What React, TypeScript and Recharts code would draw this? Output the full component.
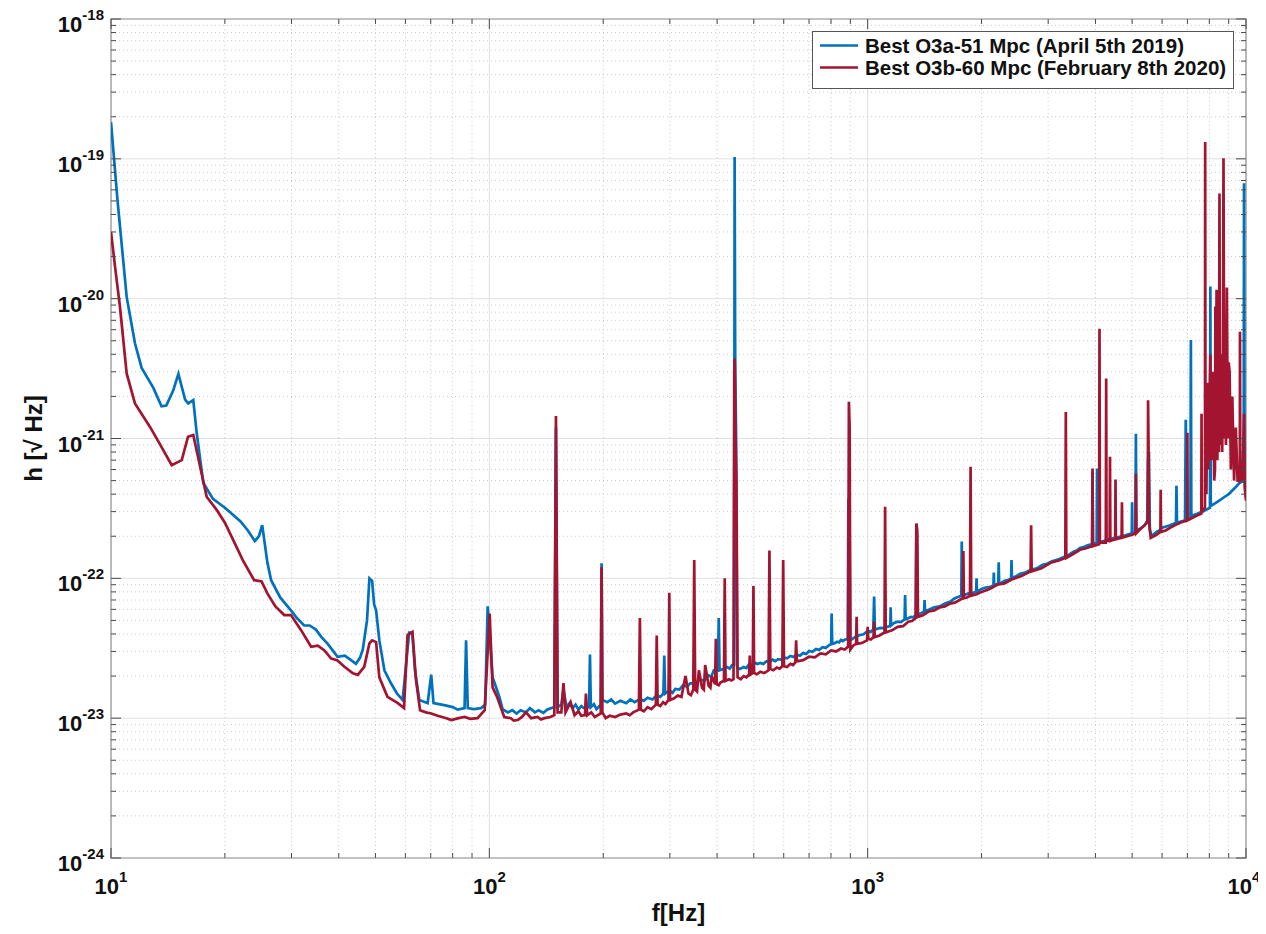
import React from 'react';
import { LineChart, Line, XAxis, YAxis, ReferenceLine, ReferenceArea } from 'recharts';

// ---------- data (frequency in Hz, strain in 1/sqrt(Hz)) ----------
const o3aPoints: [number, number][] = [
  [10, 1.83e-19], [10.4, 5.1e-20], [11.0, 1.03e-20], [11.57, 4.8e-21], [12.05, 3.2e-21],
  [12.94, 2.3e-21], [13.6, 1.7e-21], [14.0, 1.72e-21], [14.6, 2.2e-21], [15.07, 2.9e-21],
  [15.7, 1.9e-21], [16.0, 1.78e-21], [16.5, 1.88e-21], [16.85, 1.09e-21], [17.54, 4.8e-22],
  [18.6, 3.7e-22], [20, 3.2e-22], [21, 2.85e-22], [22, 2.55e-22], [23, 2.2e-22],
  [24, 1.85e-22], [24.6, 2.0e-22], [25.1, 2.4e-22], [25.9, 1.3e-22], [26.5, 9.7e-23],
  [28, 7.3e-23], [29.9, 5.9e-23], [31, 5.2e-23], [32.4, 4.6e-23], [33.5, 4.6e-23],
  [34.8, 4.3e-23], [36, 3.8e-23], [37.4, 3.4e-23], [39.7, 2.75e-23], [41.5, 2.8e-23],
  [43.1, 2.6e-23], [44.4, 2.45e-23], [45.5, 2.7e-23], [46.3, 3.1e-23], [47.5, 5e-23],
  [48.2, 1.0e-22], [49.0, 9.6e-23], [49.6, 6.5e-23], [50.2, 5.9e-23], [51.2, 3.6e-23],
  [52.8, 2.2e-23], [55.0, 1.77e-23], [57, 1.5e-23], [59.0, 1.35e-23], [61.4, 4.1e-23],
  [62.6, 4.1e-23], [63.6, 2.2e-23], [65.3, 1.35e-23], [68.7, 1.28e-23], [70.2, 2.05e-23],
  [71.2, 1.28e-23], [76, 1.24e-23], [80, 1.2e-23], [82.5, 1.15e-23], [86.0, 1.18e-23],
  [86.8, 3.6e-23], [87.7, 1.18e-23], [91, 1.16e-23], [95.1, 1.18e-23], [97.5, 1.25e-23],
  [99.0, 6.3e-23], [102, 1.96e-23], [106.3, 1.42e-23], [108.4, 1.16e-23], [112, 1.1e-23],
  [115, 1.14e-23], [118, 1.08e-23], [121, 1.14e-23], [125, 1.1e-23], [128, 1.18e-23],
  [132, 1.1e-23], [135, 1.14e-23], [139, 1.09e-23], [142, 1.15e-23], [148.5, 1.2e-23],
  [150, 1.2e-21], [151.5, 1.2e-23], [155, 1.25e-23], [157, 1.6e-23], [160, 1.2e-23],
  [163, 1.28e-23], [166, 1.18e-23], [169, 1.25e-23], [172, 1.15e-23], [175, 1.22e-23],
  [178, 1.18e-23], [183.5, 1.2e-23], [184.5, 2.85e-23], [185.5, 1.2e-23], [189, 1.26e-23],
  [192, 1.16e-23], [197, 1.25e-23], [198, 1.28e-22], [199, 1.35e-23], [205, 1.3e-23],
  [210, 1.36e-23], [215, 1.27e-23], [222, 1.33e-23], [230, 1.28e-23], [236, 1.36e-23],
  [242, 1.3e-23], [250, 1.37e-23], [256, 1.33e-23], [262, 1.4e-23], [270, 1.36e-23],
  [277, 1.46e-23], [283, 1.42e-23], [288.5, 1.5e-23], [290, 2.8e-23], [291.5, 1.5e-23],
  [299, 1.58e-23], [305, 1.52e-23], [310, 1.62e-23], [318, 1.6e-23], [325, 1.72e-23],
  [333, 1.68e-23], [340, 1.78e-23], [350, 1.76e-23], [360, 1.9e-23], [370, 1.85e-23],
  [380, 2.02e-23], [386, 1.98e-23], [392, 2.2e-23], [402, 2.2e-23], [404, 5.2e-23],
  [406, 2.2e-23], [415, 2.25e-23], [425, 2.32e-23], [432, 2.26e-23], [438, 2.4e-23],
  [443.5, 2.4e-23], [445, 1.03e-19], [446.5, 4e-21], [449, 1e-21], [452, 2.3e-23],
  [460, 2.25e-23], [470, 2.32e-23], [478, 2.28e-23], [485, 2.42e-23], [495, 2.38e-23],
  [502, 2.5e-23], [511, 2.44e-23], [520, 2.48e-23], [530, 2.44e-23], [540, 2.55e-23],
  [550, 2.52e-23], [560, 2.62e-23], [570, 2.56e-23], [580, 2.64e-23], [590, 2.62e-23],
  [600, 2.72e-23], [612, 2.68e-23], [625, 2.78e-23], [637, 2.74e-23], [650, 2.84e-23],
  [662, 2.8e-23], [675, 2.92e-23], [688, 2.88e-23], [700, 3.02e-23], [715, 2.98e-23],
  [730, 3.12e-23], [745, 3.08e-23], [760, 3.22e-23], [775, 3.18e-23], [790, 3.32e-23],
  [801, 3.4e-23], [803, 5.6e-23], [806, 3.4e-23], [818, 3.44e-23], [830, 3.52e-23],
  [840, 3.48e-23], [850, 3.62e-23], [860, 3.56e-23], [870, 3.64e-23], [886, 3.7e-23],
  [889, 3.7e-22], [895, 3.5e-22], [900, 3.6e-23], [925, 3.8e-23], [950, 3.92e-23],
  [975, 3.98e-23], [1000, 4.2e-23], [1018, 4.14e-23], [1035, 4.3e-23], [1040, 7.4e-23],
  [1045, 4.3e-23], [1062, 4.36e-23], [1080, 4.42e-23], [1098, 4.4e-23], [1115, 4.55e-23],
  [1130, 4.5e-23], [1148, 4.6e-23], [1150, 6.2e-23], [1153, 4.6e-23], [1175, 4.8e-23],
  [1200, 4.9e-23], [1225, 4.86e-23], [1252, 5.1e-23], [1256, 7.6e-23], [1260, 5.1e-23],
  [1280, 5.18e-23], [1300, 5.3e-23], [1320, 5.26e-23], [1340, 5.5e-23], [1345, 2.45e-22],
  [1350, 2.0e-22], [1356, 5.6e-23], [1383, 5.62e-23], [1410, 5.8e-23], [1414, 7.0e-23],
  [1418, 5.8e-23], [1460, 6.0e-23], [1500, 6.2e-23], [1550, 6.3e-23], [1600, 6.6e-23],
  [1650, 6.8e-23], [1700, 7.2e-23], [1768, 7.5e-23], [1773, 1.83e-22], [1778, 7.6e-23],
  [1810, 7.65e-23], [1850, 7.8e-23], [1890, 7.85e-23], [1935, 8.0e-23], [1940, 1.0e-22],
  [1945, 8.0e-23], [2000, 8.4e-23], [2050, 8.6e-23], [2100, 8.65e-23], [2150, 8.9e-23],
  [2155, 1.1e-22], [2160, 8.9e-23], [2214, 9.2e-23], [2220, 1.3e-22], [2226, 9.2e-23],
  [2260, 9.3e-23], [2300, 9.6e-23], [2350, 9.7e-23], [2394, 1.0e-22], [2400, 1.35e-22],
  [2406, 1.0e-22], [2460, 1.03e-22], [2530, 1.08e-22], [2610, 1.1e-22], [2700, 1.15e-22],
  [2800, 1.18e-22], [2900, 1.25e-22], [2980, 1.27e-22], [3060, 1.32e-22], [3180, 1.36e-22],
  [3300, 1.42e-22], [3400, 1.47e-22], [3500, 1.55e-22], [3570, 1.58e-22], [3640, 1.65e-22],
  [3720, 1.67e-22], [3800, 1.72e-22], [3920, 1.76e-22], [3930, 5.8e-22], [3940, 1.76e-22],
  [4030, 1.8e-22], [4040, 6.1e-22], [4050, 1.8e-22], [4120, 1.82e-22], [4200, 1.85e-22],
  [4350, 1.9e-22], [4500, 1.95e-22], [4600, 1.97e-22], [4700, 2.0e-22], [4850, 2.05e-22],
  [4990, 2.1e-22], [5000, 3.5e-22], [5010, 2.1e-22], [5100, 2.15e-22], [5117, 1.08e-21],
  [5130, 2.2e-22], [5220, 2.25e-22], [5300, 2.3e-22], [5390, 2.4e-22], [5480, 2.5e-22],
  [5510, 7.0e-22], [5540, 8.0e-22], [5570, 2.2e-22], [5650, 2.0e-22], [5720, 2.08e-22],
  [5800, 2.15e-22], [5900, 2.2e-22], [6000, 2.3e-22], [6150, 2.35e-22], [6300, 2.4e-22],
  [6420, 2.45e-22], [6530, 2.5e-22], [6550, 4.6e-22], [6570, 2.5e-22], [6730, 2.55e-22],
  [6900, 2.6e-22], [6930, 1.36e-21], [6960, 2.6e-22], [7050, 2.65e-22], [7130, 2.7e-22],
  [7150, 5.06e-21], [7170, 2.8e-22], [7300, 2.85e-22], [7430, 2.9e-22], [7560, 2.95e-22],
  [7700, 3.0e-22], [7860, 3.1e-22], [8030, 3.2e-22], [8050, 1.22e-20], [8070, 3.3e-22],
  [8300, 3.45e-22], [8500, 3.6e-22], [8750, 3.8e-22], [9000, 4.0e-22], [9200, 4.25e-22],
  [9400, 4.5e-22], [9600, 4.8e-22], [9860, 5.0e-22], [9880, 6.7e-20], [9910, 5.0e-22],
  [10000, 4.8e-22],
];

const o3bPoints: [number, number][] = [
  [10, 3.0e-20], [10.25, 1.69e-20], [10.56, 8.75e-21], [11.0, 2.92e-21], [11.57, 1.78e-21],
  [12.68, 1.21e-21], [13.5, 9.0e-22], [14.47, 6.45e-22], [15.38, 7.0e-22], [15.98, 1.03e-21],
  [16.5, 1.06e-21], [17.2, 6.3e-22], [17.9, 3.83e-22], [19, 3.1e-22], [20, 2.5e-22],
  [21, 1.9e-22], [22.3, 1.35e-22], [23.9, 9.7e-23], [25.0, 9.5e-23], [25.9, 7.8e-23],
  [27.2, 6.3e-23], [28.7, 5.46e-23], [29.9, 5.46e-23], [31.8, 4.26e-23], [33.8, 3.24e-23],
  [35.2, 3.3e-23], [36.6, 3.06e-23], [38.2, 2.67e-23], [39.6, 2.6e-23], [41.4, 2.33e-23],
  [43.6, 2.09e-23], [44.9, 2.04e-23], [46.7, 2.33e-23], [48.2, 3.42e-23], [49.0, 3.6e-23],
  [50.2, 3.5e-23], [51.2, 1.96e-23], [53.8, 1.42e-23], [57.3, 1.28e-23], [59.5, 1.18e-23],
  [60.8, 3.93e-23], [62.6, 4.14e-23], [64.0, 1.87e-23], [65.6, 1.14e-23], [68, 1.1e-23],
  [70.2, 1.08e-23], [73, 1.04e-23], [75, 1.02e-23], [77, 1.0e-23], [79.3, 9.7e-24],
  [83, 1.0e-23], [86, 1.02e-23], [89, 9.9e-24], [93.1, 1.0e-23], [97.2, 1.14e-23],
  [100.2, 5.6e-23], [102, 1.66e-23], [104.8, 1.42e-23], [109.5, 1.02e-23], [114, 1.0e-23],
  [116, 9.6e-24], [118.9, 9.7e-24], [122, 1.02e-23], [125, 1.1e-23], [129, 1.0e-23],
  [134, 1.02e-23], [137, 9.8e-24], [140, 1.0e-23], [145, 1.02e-23], [148.5, 1.05e-23],
  [150, 1.45e-21], [151.5, 1.1e-23], [155, 1.1e-23], [157, 1.78e-23], [159, 1.1e-23],
  [164, 1.3e-23], [168, 1.05e-23], [172, 1.12e-23], [175, 1.04e-23], [179, 1.05e-23],
  [180, 1.5e-23], [181.5, 1.05e-23], [186, 1.1e-23], [190, 1.02e-23], [197, 1.08e-23],
  [198, 1.2e-22], [199, 1.1e-23], [203, 1.0e-23], [208, 1.04e-23], [215, 1.02e-23],
  [222, 1.06e-23], [230, 1.08e-23], [235, 1.05e-23], [240, 1.1e-23], [248.5, 1.15e-23],
  [250, 5.2e-23], [251.5, 1.15e-23], [256, 1.12e-23], [262, 1.2e-23], [268, 1.16e-23],
  [275.5, 1.25e-23], [277, 3.9e-23], [278.5, 1.25e-23], [283, 1.22e-23], [288, 1.3e-23],
  [292, 1.26e-23], [297.5, 1.35e-23], [299, 7.9e-23], [300.5, 1.35e-23], [307, 1.38e-23],
  [315, 1.45e-23], [322, 1.42e-23], [330, 2.0e-23], [336, 1.5e-23], [341, 1.46e-23],
  [346, 1.6e-23], [348, 1.35e-22], [350, 1.6e-23], [354, 1.55e-23], [358, 2.2e-23],
  [365, 1.65e-23], [369, 1.6e-23], [372, 2.4e-23], [380, 1.7e-23], [384, 1.65e-23],
  [387, 2.0e-23], [395, 1.75e-23], [397, 3.7e-23], [399, 1.75e-23], [404, 1.72e-23],
  [408, 1.8e-23], [417, 1.85e-23], [419, 1.0e-22], [421, 1.85e-23], [430, 1.9e-23],
  [436, 1.86e-23], [442, 1.9e-23], [444, 3.0e-21], [445, 3.74e-21], [447, 1.2e-21],
  [450, 4.8e-22], [453, 1.96e-23], [462, 1.9e-23], [470, 2.0e-23], [478, 1.96e-23],
  [486, 2.05e-23], [488, 2.8e-23], [490, 2.05e-23], [497, 2.1e-23], [499, 8.8e-23],
  [501, 2.1e-23], [510, 2.06e-23], [520, 2.15e-23], [533, 2.1e-23], [547, 2.2e-23],
  [550, 1.58e-22], [553, 2.25e-23], [563, 2.2e-23], [575, 2.3e-23], [585, 2.26e-23],
  [595, 2.35e-23], [598, 1.35e-22], [601, 2.35e-23], [612, 2.32e-23], [625, 2.45e-23],
  [635, 2.4e-23], [644, 2.5e-23], [647, 3.6e-23], [650, 2.55e-23], [675, 2.6e-23],
  [700, 2.75e-23], [725, 2.72e-23], [750, 2.9e-23], [775, 2.86e-23], [800, 3.05e-23],
  [825, 3.0e-23], [850, 3.15e-23], [870, 3.1e-23], [888, 3.25e-23], [892, 1.83e-21],
  [896, 1.2e-21], [900, 3.1e-23], [915, 3.3e-23], [932, 3.4e-23], [935, 5.3e-23],
  [938, 3.4e-23], [965, 3.45e-23], [996, 3.6e-23], [1000, 4.5e-23], [1004, 3.7e-23],
  [1020, 3.65e-23], [1036, 3.8e-23], [1040, 4.9e-23], [1044, 3.8e-23], [1075, 3.9e-23],
  [1108, 4.1e-23], [1112, 3.25e-22], [1116, 4.1e-23], [1160, 4.25e-23], [1200, 4.5e-23],
  [1240, 4.55e-23], [1280, 4.9e-23], [1310, 4.95e-23], [1340, 5.2e-23], [1345, 2.47e-22],
  [1352, 2.2e-22], [1358, 5.3e-23], [1400, 5.45e-23], [1450, 5.8e-23], [1500, 5.9e-23],
  [1550, 6.2e-23], [1600, 6.3e-23], [1650, 6.6e-23], [1700, 6.7e-23], [1750, 7.0e-23],
  [1784, 7.2e-23], [1790, 1.57e-22], [1796, 7.2e-23], [1830, 7.3e-23], [1864, 7.5e-23],
  [1871, 6.28e-22], [1878, 7.5e-23], [1940, 7.7e-23], [2000, 8.0e-23], [2100, 8.4e-23],
  [2200, 9.0e-23], [2300, 9.2e-23], [2400, 9.8e-23], [2550, 1.04e-22], [2695, 1.12e-22],
  [2704, 2.4e-22], [2713, 1.12e-22], [2880, 1.18e-22], [3060, 1.3e-22], [3200, 1.34e-22],
  [3330, 1.4e-22], [3340, 1.55e-21], [3350, 1.4e-22], [3500, 1.5e-22], [3640, 1.6e-22],
  [3780, 1.64e-22], [3920, 1.7e-22], [3930, 6.1e-22], [3940, 1.7e-22], [4090, 1.75e-22],
  [4100, 6.1e-21], [4110, 1.8e-22], [4260, 1.8e-22], [4270, 2.69e-21], [4280, 1.85e-22],
  [4360, 1.85e-22], [4370, 7.4e-22], [4380, 1.85e-22], [4510, 1.9e-22], [4520, 5.1e-22],
  [4530, 1.9e-22], [4690, 1.95e-22], [4700, 3.5e-22], [4710, 1.95e-22], [4850, 2.0e-22],
  [5000, 2.05e-22], [5105, 2.1e-22], [5117, 5.6e-22], [5130, 2.1e-22], [5260, 2.25e-22],
  [5400, 2.4e-22], [5500, 2.6e-22], [5510, 1.88e-21], [5525, 9.3e-22], [5540, 2.6e-22],
  [5600, 1.95e-22], [5700, 2.0e-22], [5800, 2.05e-22], [5940, 2.15e-22], [5950, 4.3e-22],
  [5960, 2.15e-22], [6130, 2.2e-22], [6300, 2.3e-22], [6500, 2.4e-22], [6700, 2.5e-22],
  [6990, 2.6e-22], [7000, 1.1e-21], [7010, 2.6e-22], [7200, 2.7e-22], [7400, 2.8e-22],
  [7620, 2.9e-22], [7630, 1.5e-21], [7640, 3.0e-22], [7790, 3.2e-22], [7800, 1.32e-19],
  [7815, 8e-22], [7860, 4e-22], [7900, 2.5e-21], [7950, 6e-22], [8000, 1.5e-21],
  [8050, 4e-21], [8100, 7e-22], [8150, 3e-21], [8200, 2e-21], [8240, 5e-22],
  [8280, 6e-22], [8300, 8.8e-21], [8330, 1.5e-21], [8360, 1.16e-20], [8400, 7e-22],
  [8450, 3e-21], [8480, 8e-22], [8510, 5.66e-20], [8540, 9e-22], [8600, 4e-21],
  [8650, 8e-22], [8690, 2.5e-21], [8720, 1.01e-19], [8760, 1e-21], [8800, 5e-21],
  [8850, 9e-22], [8900, 1.2e-20], [8950, 1e-21], [9000, 3.5e-21], [9050, 3e-21],
  [9120, 6e-22], [9200, 2e-21], [9300, 5e-22], [9400, 1.2e-21], [9500, 5e-22],
  [9630, 5e-22], [9640, 5.8e-21], [9660, 5e-22], [9800, 5.2e-22], [9880, 1.5e-21],
  [9920, 4.5e-22], [10000, 3.6e-22],
];

const xTicks = [
  10, 20, 30, 40, 50, 60, 70, 80, 90,
  100, 200, 300, 400, 500, 600, 700, 800, 900,
  1000, 2000, 3000, 4000, 5000, 6000, 7000, 8000, 9000, 10000,
];
const yTicks = [
  1e-24, 2e-24, 3e-24, 4e-24, 5e-24, 6e-24, 7e-24, 8e-24, 9e-24,
  1e-23, 2e-23, 3e-23, 4e-23, 5e-23, 6e-23, 7e-23, 8e-23, 9e-23,
  1e-22, 2e-22, 3e-22, 4e-22, 5e-22, 6e-22, 7e-22, 8e-22, 9e-22,
  1e-21, 2e-21, 3e-21, 4e-21, 5e-21, 6e-21, 7e-21, 8e-21, 9e-21,
  1e-20, 2e-20, 3e-20, 4e-20, 5e-20, 6e-20, 7e-20, 8e-20, 9e-20,
  1e-19, 2e-19, 3e-19, 4e-19, 5e-19, 6e-19, 7e-19, 8e-19, 9e-19,
  1e-18,
];

const seriesNames = ['Best O3a-51 Mpc (April 5th 2019)', 'Best O3b-60 Mpc (February 8th 2020)'];

// ---------- layout / style (page pixels) ----------
const W = 1266;
const H = 934;
const PL = 111;
const PR = 1246;
const PT = 19;
const PB = 858;
const BLUE = '#0072BD';
const RED = '#A2142F';
const AXIS = '#4a4a4a';
const FONT = "'Liberation Sans', Arial, Helvetica, sans-serif";

const o3aData = o3aPoints.map(([f, h]) => ({ f, h }));
const o3bData = o3bPoints.map(([f, h]) => ({ f, h }));

const isMajor = (v: number) => {
  const l = Math.log10(v);
  return Math.abs(l - Math.round(l)) < 1e-6;
};

const YTick = (props: any) => {
  const { y, payload } = props;
  const v = payload.value;
  const major = isMajor(v);
  const len = major ? 10 : 5;
  const exp = Math.round(Math.log10(v));
  return (
    <g>
      <line x1={PL} x2={PL + len} y1={y} y2={y} stroke={AXIS} strokeWidth={1} />
      <line x1={PR - len} x2={PR} y1={y} y2={y} stroke={AXIS} strokeWidth={1} />
      {major && (
        <text x={PL - 7} y={y + 13} textAnchor="end" fontFamily={FONT} fontWeight="bold" fontSize={22} fill="#111">
          10
          <tspan dy={-12} fontSize={15}>{exp}</tspan>
        </text>
      )}
    </g>
  );
};

const XTick = (props: any) => {
  const { x, payload } = props;
  const v = payload.value;
  const major = isMajor(v);
  const len = major ? 10 : 5;
  const exp = Math.round(Math.log10(v));
  // keep the last label inside the page edge
  const lx = Math.min(x, W - 22);
  return (
    <g>
      <line x1={x} x2={x} y1={PB} y2={PB - len} stroke={AXIS} strokeWidth={1} />
      <line x1={x} x2={x} y1={PT} y2={PT + len} stroke={AXIS} strokeWidth={1} />
      {major && (
        <text x={lx} y={PB + 36} textAnchor="middle" fontFamily={FONT} fontWeight="bold" fontSize={22} fill="#111">
          10
          <tspan dy={-12} fontSize={15}>{exp}</tspan>
        </text>
      )}
    </g>
  );
};

export default function App() {
  return (
    <div style={{ position: 'relative', width: W, height: H, margin: -8, background: '#fff', overflow: 'hidden' }}>
      <LineChart
        width={W}
        height={H}
        margin={{ top: PT, right: W - PR, bottom: 0, left: 0 }}
      >
        <XAxis
          type="number"
          dataKey="f"
          scale="log"
          domain={[10, 10000]}
          allowDataOverflow
          ticks={xTicks}
          interval={0}
          tick={<XTick />}
          tickLine={false}
          axisLine={false}
          height={H - PB}
          label={{
            content: () => (
              <text x={(PL + PR) / 2} y={921} textAnchor="middle" fontFamily={FONT} fontWeight="bold" fontSize={24} fill="#111">
                f[Hz]
              </text>
            ),
          }}
        />
        <YAxis
          type="number"
          scale="log"
          domain={[1e-24, 1e-18]}
          allowDataOverflow
          ticks={yTicks}
          interval={0}
          tick={<YTick />}
          tickLine={false}
          axisLine={false}
          width={PL}
          label={{
            content: () => (
              <text
                x={33}
                y={(PT + PB) / 2}
                transform={`rotate(-90 33 ${(PT + PB) / 2})`}
                textAnchor="middle"
                dominantBaseline="central"
                fontFamily={FONT}
                fontWeight="bold"
                fontSize={24}
                fill="#111"
              >
                h [√ Hz]
              </text>
            ),
          }}
        />
        {xTicks.map((v) => (
          <ReferenceLine
            key={'gx' + v}
            x={v}
            stroke={isMajor(v) ? '#e0e0e0' : '#cbcbcb'}
            strokeWidth={1}
            strokeDasharray={isMajor(v) ? undefined : '1 3'}
          />
        ))}
        {yTicks.map((v) => (
          <ReferenceLine
            key={'gy' + v}
            y={v}
            stroke={isMajor(v) ? '#e0e0e0' : '#cbcbcb'}
            strokeWidth={1}
            strokeDasharray={isMajor(v) ? undefined : '1 3'}
          />
        ))}
        <Line
          data={o3aData}
          dataKey="h"
          name={seriesNames[0]}
          type="linear"
          stroke={BLUE}
          strokeWidth={2.7}
          dot={false}
          isAnimationActive={false}
        />
        <Line
          data={o3bData}
          dataKey="h"
          name={seriesNames[1]}
          type="linear"
          stroke={RED}
          strokeWidth={2.7}
          dot={false}
          isAnimationActive={false}
        />
        <ReferenceArea
          x1={10}
          x2={10000}
          y1={1e-24}
          y2={1e-18}
          fill="none"
          fillOpacity={0}
          stroke={AXIS}
          strokeWidth={1.2}
        />
      </LineChart>
      <svg
        width={422}
        height={58}
        style={{ position: 'absolute', left: 812, top: 31 }}
      >
        <rect x={0.5} y={0.5} width={421} height={57} fill="#fff" stroke="#555" strokeWidth={1} />
        <line x1={8} x2={46} y1={14.5} y2={14.5} stroke={BLUE} strokeWidth={2.7} />
        <line x1={8} x2={46} y1={36.5} y2={36.5} stroke={RED} strokeWidth={2.7} />
        <text x={53} y={21.5} fontFamily={FONT} fontWeight="bold" fontSize={20.5} fill="#111">
          {seriesNames[0]}
        </text>
        <text x={53} y={43.5} fontFamily={FONT} fontWeight="bold" fontSize={20.5} fill="#111">
          {seriesNames[1]}
        </text>
      </svg>
    </div>
  );
}
